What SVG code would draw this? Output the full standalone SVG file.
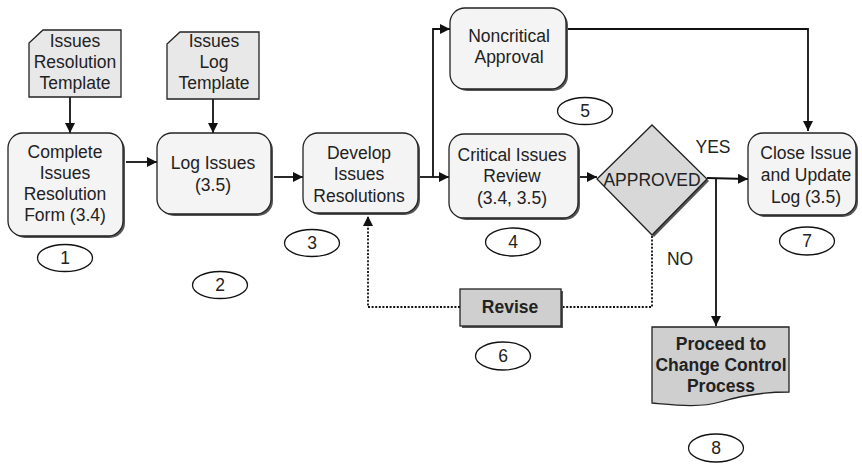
<svg xmlns="http://www.w3.org/2000/svg" width="862" height="464" viewBox="0 0 862 464">
<style>
text{font-family:"Liberation Sans",Arial,sans-serif;font-size:17.5px;fill:#222;text-anchor:middle}
.b{font-weight:bold}
.node{fill:#f4f4f4;stroke:#222;stroke-width:1.3}
.sh{fill:#555}
.tpl{fill:#e8e8e8;stroke:#222;stroke-width:1.3}
.gray{fill:#cfcfcf;stroke:#222;stroke-width:1.3}
.num{fill:#fff;stroke:#111;stroke-width:1.3}
.ln{fill:none;stroke:#111;stroke-width:1.8}
.dot{fill:none;stroke:#111;stroke-width:1.8;stroke-dasharray:2 1.6}
</style>
<defs>
<marker id="ah" viewBox="0 0 10 10" refX="10" refY="5" markerWidth="10" markerHeight="10" markerUnits="userSpaceOnUse" orient="auto">
<path d="M0,0 L10,5 L0,10 Z" fill="#111"/>
</marker>
</defs>
<g id="connectors">
<path class="ln" d="M70,97 V133" marker-end="url(#ah)"/>
<path class="ln" d="M213,99 V133" marker-end="url(#ah)"/>
<path class="ln" d="M126,162 H157" marker-end="url(#ah)"/>
<path class="ln" d="M274,177 H303" marker-end="url(#ah)"/>
<path class="ln" d="M420,177 H449" marker-end="url(#ah)"/>
<path class="ln" d="M433,177 V29 H450" marker-end="url(#ah)"/>
<path class="ln" d="M568,29 H808 V131" marker-end="url(#ah)"/>
<path class="ln" d="M580,177 H597" marker-end="url(#ah)"/>
<path class="ln" d="M707,178 L748,179" marker-end="url(#ah)"/>
<path class="ln" d="M716,179 V326" marker-end="url(#ah)"/>
<path class="dot" d="M652,236 V307 H562"/>
<path class="dot" d="M460,307 H368 V216" marker-end="url(#ah)"/>
</g>
<g id="tpl1">
<path class="tpl" d="M43,30 H121 V97 H29 V43 Z"/>
<text x="75" y="47">Issues</text>
<text x="75" y="68">Resolution</text>
<text x="75" y="89">Template</text>
</g>
<g id="tpl2">
<path class="tpl" d="M180,32 H259 V99 H167 V44 Z"/>
<text x="214" y="47">Issues</text>
<text x="214" y="68">Log</text>
<text x="214" y="89">Template</text>
</g>
<g id="n1">
<rect class="sh" x="10" y="135" width="115" height="103" rx="15"/>
<rect class="node" x="8" y="133" width="115" height="103" rx="15"/>
<text x="65" y="158">Complete</text>
<text x="65" y="179">Issues</text>
<text x="65" y="200">Resolution</text>
<text x="65" y="221">Form (3.4)</text>
</g>
<g id="n2">
<rect class="sh" x="159" y="135" width="114" height="81" rx="15"/>
<rect class="node" x="157" y="133" width="114" height="81" rx="15"/>
<text x="213" y="169">Log Issues</text>
<text x="213" y="191">(3.5)</text>
</g>
<g id="n3">
<rect class="sh" x="305" y="135" width="115" height="80" rx="15"/>
<rect class="node" x="303" y="133" width="115" height="80" rx="15"/>
<text x="359" y="159">Develop</text>
<text x="359" y="180">Issues</text>
<text x="359" y="202">Resolutions</text>
</g>
<g id="n4">
<rect class="sh" x="451" y="136" width="129" height="84" rx="15"/>
<rect class="node" x="449" y="134" width="129" height="84" rx="15"/>
<text x="512" y="161">Critical Issues</text>
<text x="512" y="182">Review</text>
<text x="512" y="204">(3.4, 3.5)</text>
</g>
<g id="n5">
<rect class="sh" x="452" y="10" width="116" height="81" rx="15"/>
<rect class="node" x="450" y="8" width="116" height="81" rx="15"/>
<text x="509" y="42">Noncritical</text>
<text x="509" y="63">Approval</text>
</g>
<g id="decision">
<path d="M599,181 L654,127 L709,181 L654,237 Z" fill="#555"/>
<path class="gray" style="fill:#d8d8d8" d="M597,179 L652,125 L707,179 L652,235 Z"/>
<text x="652" y="186">APPROVED</text>
<text x="713" y="153">YES</text>
<text x="680" y="265">NO</text>
</g>
<g id="n7">
<rect class="sh" x="750" y="135" width="108" height="82" rx="15"/>
<rect class="node" x="748" y="133" width="108" height="82" rx="15"/>
<text x="806" y="159">Close Issue</text>
<text x="806" y="181">and Update</text>
<text x="806" y="203">Log (3.5)</text>
</g>
<g id="n6">
<rect class="sh" x="462" y="291" width="101" height="37"/>
<rect class="gray" x="460" y="289" width="101" height="37"/>
<text class="b" x="510" y="313">Revise</text>
</g>
<g id="n8">
<path class="gray" d="M652,327 H789 V392 C760,392 740,396 720,402 C700,408 675,405 652,403 Z"/>
<text class="b" x="721" y="350">Proceed to</text>
<text class="b" x="721" y="371">Change Control</text>
<text class="b" x="721" y="392">Process</text>
</g>
<g id="labels">
<ellipse class="num" cx="65" cy="258" rx="27.5" ry="13.5"/><text x="65" y="264">1</text>
<ellipse class="num" cx="220" cy="285" rx="27.5" ry="13.5"/><text x="220" y="291">2</text>
<ellipse class="num" cx="312" cy="243" rx="27.5" ry="13.5"/><text x="312" y="249">3</text>
<ellipse class="num" cx="513" cy="242" rx="27.5" ry="14"/><text x="513" y="248">4</text>
<ellipse class="num" cx="585" cy="111" rx="27.5" ry="13.5"/><text x="585" y="117">5</text>
<ellipse class="num" cx="503" cy="356" rx="27.5" ry="14"/><text x="503" y="362">6</text>
<ellipse class="num" cx="807" cy="241" rx="27.5" ry="14"/><text x="807" y="247">7</text>
<ellipse class="num" cx="716" cy="448" rx="27.5" ry="14"/><text x="716" y="454">8</text>
</g>
</svg>
